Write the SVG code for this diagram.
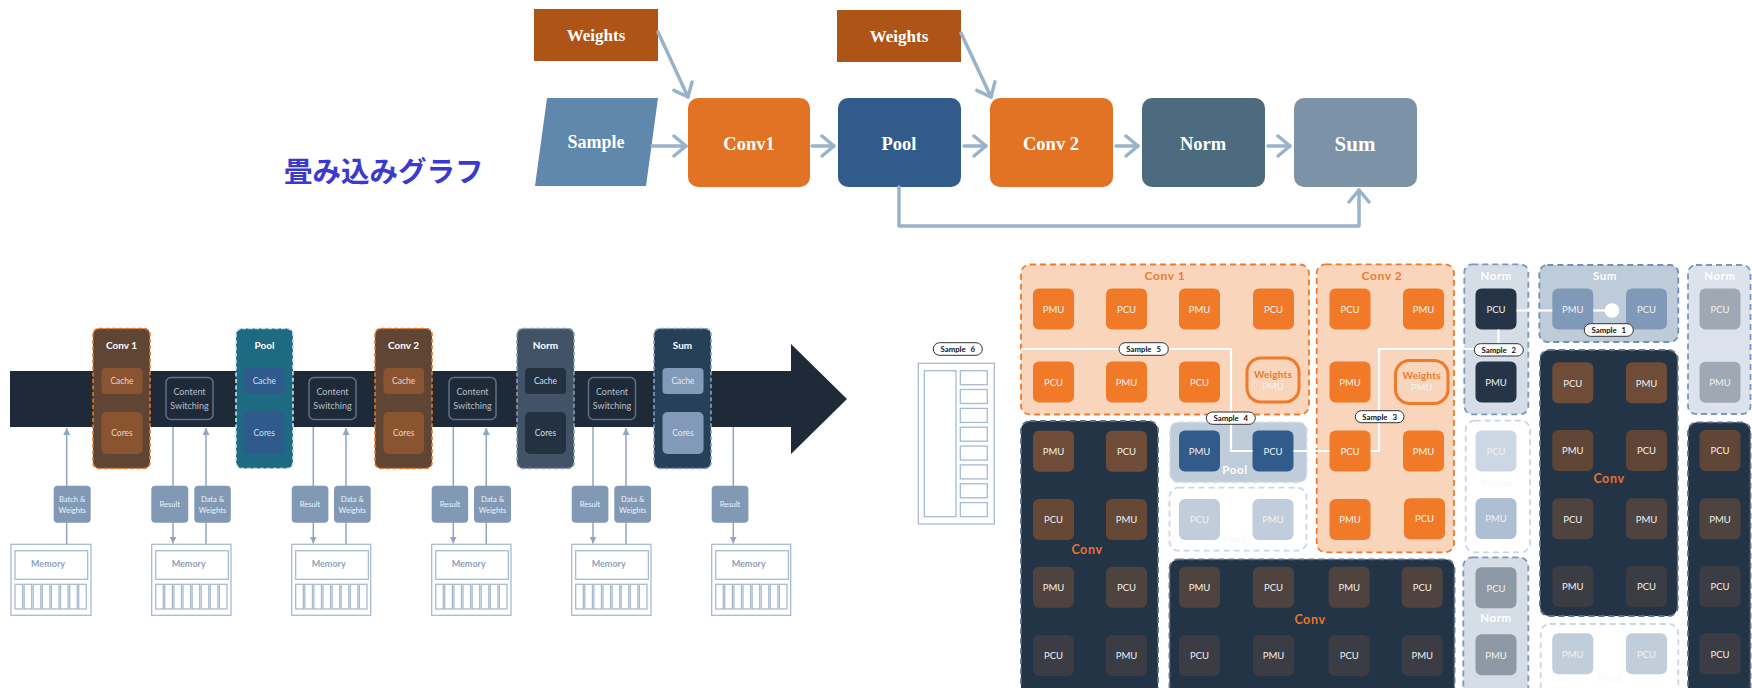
<svg xmlns="http://www.w3.org/2000/svg" width="1752" height="688" viewBox="0 0 1752 688">
<defs>
<style>
.tf{font-family:"Liberation Serif","Times New Roman",serif;font-weight:bold;fill:#fff;text-anchor:middle}
.ta{fill:none;stroke:#98B3CC;stroke-width:3.5;stroke-linecap:round;stroke-linejoin:round}
.lf{font-family:Lato,"Open Sans",sans-serif;text-anchor:middle;dominant-baseline:central}
.mod{stroke-width:1.6;stroke-dasharray:4 2.5}
.cs{fill:#1E2A38;stroke:#5F7186;stroke-width:1.5}
.cst{font-size:9px;fill:#B4BFCB}
.lb{fill:#8299B6}
.lbt{font-size:7.6px;fill:#EEF2F6}
.cl{fill:none;stroke:#8FA6C2;stroke-width:1.5}
.mem{fill:#fff;stroke:#A7BAD1;stroke-width:1.3}
.memt{font-size:9px;fill:#8EA3BE;font-weight:bold}
.reg{stroke-width:1.8;stroke-dasharray:6 4}
.or{fill:#F8D5BB;stroke:#EE7A2C}
.dk{fill:#243447;stroke:#5E718A}
.lt{fill:#D5DDE7;stroke:#7D98B8}
.gh{fill:#fff;stroke:#CCD6E1}
.t{rx:6px}
.tt{font-family:Lato,"Open Sans",sans-serif;font-size:9.5px;fill:#F2F2F2;text-anchor:middle;dominant-baseline:central}
.rt{font-family:Lato,"Open Sans",sans-serif;font-weight:bold;text-anchor:middle;dominant-baseline:central;letter-spacing:0.6px}
.gl{fill:#F8FAFC}
.sl{fill:none;stroke:#fff;stroke-width:2.2}
.pill{fill:#fff;stroke:#333;stroke-width:1}
.pt{font-family:Lato,"Open Sans",sans-serif;font-weight:bold;font-size:7.8px;fill:#111;text-anchor:middle;dominant-baseline:central;word-spacing:3px}
</style>
<marker id="chev" viewBox="0 0 16 24" refX="14" refY="12" markerWidth="16" markerHeight="24" markerUnits="userSpaceOnUse" orient="auto">
<path d="M2,2 L14,12 L2,22" fill="none" stroke="#98B3CC" stroke-width="3.5" stroke-linecap="round" stroke-linejoin="round"/>
</marker>
<marker id="tri" viewBox="0 0 10 10" refX="10" refY="5" markerWidth="7" markerHeight="7" markerUnits="userSpaceOnUse" orient="auto">
<path d="M0,0 L10,5 L0,10 Z" fill="#8FA6C2"/>
</marker>
</defs>
<rect width="1752" height="688" fill="#fff"/>

<!-- ===== Top flowchart ===== -->
<text x="284" y="182" font-family="'Noto Sans CJK JP',sans-serif" font-weight="bold" font-size="28.5" fill="#3A3AD0">畳み込みグラフ</text>

<g id="flow-weights1"><rect x="534" y="9" width="124" height="52" fill="#AE5417"/><text class="tf" x="596" y="41" font-size="17">Weights</text></g>
<g id="flow-weights2"><rect x="837" y="10" width="124" height="52" fill="#AE5417"/><text class="tf" x="899" y="42" font-size="17">Weights</text></g>
<g id="flow-sample"><polygon points="547,98 658,98 646,186 535,186" fill="#6088AD"/><text class="tf" x="596" y="148" font-size="18">Sample</text></g>
<g id="flow-conv1"><rect x="688" y="98" width="122" height="89" rx="10" fill="#E37324"/><text class="tf" x="749" y="150" font-size="18.5">Conv1</text></g>
<g id="flow-pool"><rect x="838" y="98" width="123" height="89" rx="10" fill="#315B8B"/><text class="tf" x="899" y="150" font-size="18.5">Pool</text></g>
<g id="flow-conv2"><rect x="990" y="98" width="123" height="89" rx="10" fill="#E37324"/><text class="tf" x="1051" y="150" font-size="18.5">Conv 2</text></g>
<g id="flow-norm"><rect x="1142" y="98" width="123" height="89" rx="10" fill="#4C6B7E"/><text class="tf" x="1203" y="150" font-size="18.5">Norm</text></g>
<g id="flow-sum"><rect x="1294" y="98" width="123" height="89" rx="10" fill="#7C92A7"/><text class="tf" x="1355" y="151" font-size="21">Sum</text></g>

<g id="flow-connectors">
<path class="ta" d="M652,146 L686,146" marker-end="url(#chev)"/>
<path class="ta" d="M812,146 L834,146" marker-end="url(#chev)"/>
<path class="ta" d="M964,146 L986,146" marker-end="url(#chev)"/>
<path class="ta" d="M1116,146 L1138,146" marker-end="url(#chev)"/>
<path class="ta" d="M1268,146 L1290,146" marker-end="url(#chev)"/>
<path class="ta" d="M658,32 L688,97" marker-end="url(#chev)"/>
<path class="ta" d="M961,33 L991,97" marker-end="url(#chev)"/>
<path class="ta" d="M899,187 L899,226 L1359,226 L1359,190" marker-end="url(#chev)"/>
</g>

<!-- ===== Left pipeline ===== -->
<g id="band"><path d="M10,371 L791,371 L791,344 L847,399 L791,454 L791,427 L10,427 Z" fill="#1E2A38"/></g>

<g id="mod-conv1">
<rect class="mod" x="93" y="328.5" width="57" height="140" rx="6" fill="#604535" stroke="#E8751F"/>
<text class="lf" x="121.5" y="344.5" font-size="10" font-weight="bold" fill="#fff">Conv 1</text>
<rect x="101.5" y="368" width="41" height="26" rx="4" fill="#8A5430"/><text class="lf" x="122" y="381" font-size="8.5" fill="#E6D5C8">Cache</text>
<rect x="101.5" y="412" width="41" height="42" rx="5" fill="#8A5430"/><text class="lf" x="122" y="433" font-size="8.5" fill="#E6D5C8">Cores</text>
</g>
<g id="mod-pool">
<rect class="mod" x="236" y="328.5" width="57" height="140" rx="6" fill="#1F6A83" stroke="#D5DEE6"/>
<text class="lf" x="264.5" y="344.5" font-size="10" font-weight="bold" fill="#fff">Pool</text>
<rect x="244" y="368" width="40.5" height="26" rx="4" fill="#2E5A8C"/><text class="lf" x="264.3" y="381" font-size="8.5" fill="#D4DEEA">Cache</text>
<rect x="244" y="412" width="40.5" height="42" rx="5" fill="#2E5A8C"/><text class="lf" x="264.3" y="433" font-size="8.5" fill="#D4DEEA">Cores</text>
</g>
<g id="mod-conv2">
<rect class="mod" x="375" y="328.5" width="57" height="140" rx="6" fill="#604535" stroke="#E8751F"/>
<text class="lf" x="403.5" y="344.5" font-size="10" font-weight="bold" fill="#fff">Conv 2</text>
<rect x="383.5" y="368" width="40.5" height="26" rx="4" fill="#8A5430"/><text class="lf" x="403.7" y="381" font-size="8.5" fill="#E6D5C8">Cache</text>
<rect x="383.5" y="412" width="40.5" height="42" rx="5" fill="#8A5430"/><text class="lf" x="403.7" y="433" font-size="8.5" fill="#E6D5C8">Cores</text>
</g>
<g id="mod-norm">
<rect class="mod" x="517" y="328.5" width="57" height="140" rx="6" fill="#435367" stroke="#8A9CB2"/>
<text class="lf" x="545.5" y="344.5" font-size="10" font-weight="bold" fill="#fff">Norm</text>
<rect x="525" y="368" width="41" height="26" rx="4" fill="#243140"/><text class="lf" x="545.5" y="381" font-size="8.5" fill="#D5DCE4">Cache</text>
<rect x="525" y="412" width="41" height="42" rx="5" fill="#243140"/><text class="lf" x="545.5" y="433" font-size="8.5" fill="#D5DCE4">Cores</text>
</g>
<g id="mod-sum">
<rect class="mod" x="654" y="328.5" width="57" height="140" rx="6" fill="#274059" stroke="#8AA0BA"/>
<text class="lf" x="682.5" y="344.5" font-size="10" font-weight="bold" fill="#fff">Sum</text>
<rect x="662.5" y="368" width="41" height="26" rx="4" fill="#8299B7"/><text class="lf" x="683" y="381" font-size="8.5" fill="#E4EAF1">Cache</text>
<rect x="662.5" y="412" width="41" height="42" rx="5" fill="#8299B7"/><text class="lf" x="683" y="433" font-size="8.5" fill="#E4EAF1">Cores</text>
</g>

<g id="cs1"><rect class="cs" x="166" y="377.5" width="47" height="42" rx="5"/><text class="lf cst" x="189.5" y="391.5">Content</text><text class="lf cst" x="189.5" y="405">Switching</text></g>
<g id="cs2"><rect class="cs" x="309" y="377.5" width="47" height="42" rx="5"/><text class="lf cst" x="332.5" y="391.5">Content</text><text class="lf cst" x="332.5" y="405">Switching</text></g>
<g id="cs3"><rect class="cs" x="449" y="377.5" width="47" height="42" rx="5"/><text class="lf cst" x="472.5" y="391.5">Content</text><text class="lf cst" x="472.5" y="405">Switching</text></g>
<g id="cs4"><rect class="cs" x="588.5" y="377.5" width="47" height="42" rx="5"/><text class="lf cst" x="612" y="391.5">Content</text><text class="lf cst" x="612" y="405">Switching</text></g>

<g id="left-connectors">
<path class="cl" d="M66.7,544 L66.7,428" marker-end="url(#tri)"/>
<path class="cl" d="M173,427 L173,543.5" marker-end="url(#tri)"/>
<path class="cl" d="M206,544 L206,428" marker-end="url(#tri)"/>
<path class="cl" d="M313.3,427 L313.3,543.5" marker-end="url(#tri)"/>
<path class="cl" d="M346,544 L346,428" marker-end="url(#tri)"/>
<path class="cl" d="M453.3,427 L453.3,543.5" marker-end="url(#tri)"/>
<path class="cl" d="M486.3,544 L486.3,428" marker-end="url(#tri)"/>
<path class="cl" d="M593,427 L593,543.5" marker-end="url(#tri)"/>
<path class="cl" d="M626,544 L626,428" marker-end="url(#tri)"/>
<path class="cl" d="M733.3,427 L733.3,543.5" marker-end="url(#tri)"/>
</g>

<g id="lbl-bw"><rect class="lb" x="53.7" y="485.7" width="37" height="37" rx="4"/><text class="lf lbt" x="72.2" y="499">Batch &amp;</text><text class="lf lbt" x="72.2" y="509.5">Weights</text></g>
<g id="lbl-r1"><rect class="lb" x="151.3" y="485.7" width="37" height="37" rx="4"/><text class="lf lbt" x="169.8" y="504">Result</text></g>
<g id="lbl-dw1"><rect class="lb" x="194.3" y="485.7" width="36.5" height="37" rx="4"/><text class="lf lbt" x="212.5" y="499">Data &amp;</text><text class="lf lbt" x="212.5" y="509.5">Weights</text></g>
<g id="lbl-r2"><rect class="lb" x="291.7" y="485.7" width="36.7" height="37" rx="4"/><text class="lf lbt" x="310" y="504">Result</text></g>
<g id="lbl-dw2"><rect class="lb" x="334" y="485.7" width="36.7" height="37" rx="4"/><text class="lf lbt" x="352.3" y="499">Data &amp;</text><text class="lf lbt" x="352.3" y="509.5">Weights</text></g>
<g id="lbl-r3"><rect class="lb" x="431.7" y="485.7" width="36.5" height="37" rx="4"/><text class="lf lbt" x="450" y="504">Result</text></g>
<g id="lbl-dw3"><rect class="lb" x="474" y="485.7" width="37" height="37" rx="4"/><text class="lf lbt" x="492.5" y="499">Data &amp;</text><text class="lf lbt" x="492.5" y="509.5">Weights</text></g>
<g id="lbl-r4"><rect class="lb" x="571.7" y="485.7" width="36.7" height="37" rx="4"/><text class="lf lbt" x="590" y="504">Result</text></g>
<g id="lbl-dw4"><rect class="lb" x="614.3" y="485.7" width="36.7" height="37" rx="4"/><text class="lf lbt" x="632.7" y="499">Data &amp;</text><text class="lf lbt" x="632.7" y="509.5">Weights</text></g>
<g id="lbl-r5"><rect class="lb" x="711.7" y="485.7" width="36.7" height="37" rx="4"/><text class="lf lbt" x="730" y="504">Result</text></g>

<g id="memories">
<g id="mem1" transform="translate(11,544.3)">
<rect class="mem" width="80" height="71"/><rect class="mem" x="4" y="6.4" width="72.7" height="28.6"/><text class="lf memt" x="37" y="19.5">Memory</text>
<g class="mem"><rect x="4" y="40" width="7.6" height="24.7"/><rect x="13.1" y="40" width="7.6" height="24.7"/><rect x="22.2" y="40" width="7.6" height="24.7"/><rect x="31.3" y="40" width="7.6" height="24.7"/><rect x="40.4" y="40" width="7.6" height="24.7"/><rect x="49.5" y="40" width="7.6" height="24.7"/><rect x="58.6" y="40" width="7.6" height="24.7"/><rect x="67.7" y="40" width="7.6" height="24.7"/></g>
</g>
<g id="mem2" transform="translate(151.7,544.3)">
<rect class="mem" width="79.3" height="71"/><rect class="mem" x="4" y="6.4" width="72.7" height="28.6"/><text class="lf memt" x="37" y="19.5">Memory</text>
<g class="mem"><rect x="4" y="40" width="7.6" height="24.7"/><rect x="13.1" y="40" width="7.6" height="24.7"/><rect x="22.2" y="40" width="7.6" height="24.7"/><rect x="31.3" y="40" width="7.6" height="24.7"/><rect x="40.4" y="40" width="7.6" height="24.7"/><rect x="49.5" y="40" width="7.6" height="24.7"/><rect x="58.6" y="40" width="7.6" height="24.7"/><rect x="67.7" y="40" width="7.6" height="24.7"/></g>
</g>
<g id="mem3" transform="translate(291.7,544.3)">
<rect class="mem" width="79" height="71"/><rect class="mem" x="4" y="6.4" width="72.7" height="28.6"/><text class="lf memt" x="37" y="19.5">Memory</text>
<g class="mem"><rect x="4" y="40" width="7.6" height="24.7"/><rect x="13.1" y="40" width="7.6" height="24.7"/><rect x="22.2" y="40" width="7.6" height="24.7"/><rect x="31.3" y="40" width="7.6" height="24.7"/><rect x="40.4" y="40" width="7.6" height="24.7"/><rect x="49.5" y="40" width="7.6" height="24.7"/><rect x="58.6" y="40" width="7.6" height="24.7"/><rect x="67.7" y="40" width="7.6" height="24.7"/></g>
</g>
<g id="mem4" transform="translate(431.7,544.3)">
<rect class="mem" width="79.3" height="71"/><rect class="mem" x="4" y="6.4" width="72.7" height="28.6"/><text class="lf memt" x="37" y="19.5">Memory</text>
<g class="mem"><rect x="4" y="40" width="7.6" height="24.7"/><rect x="13.1" y="40" width="7.6" height="24.7"/><rect x="22.2" y="40" width="7.6" height="24.7"/><rect x="31.3" y="40" width="7.6" height="24.7"/><rect x="40.4" y="40" width="7.6" height="24.7"/><rect x="49.5" y="40" width="7.6" height="24.7"/><rect x="58.6" y="40" width="7.6" height="24.7"/><rect x="67.7" y="40" width="7.6" height="24.7"/></g>
</g>
<g id="mem5" transform="translate(571.7,544.3)">
<rect class="mem" width="79.3" height="71"/><rect class="mem" x="4" y="6.4" width="72.7" height="28.6"/><text class="lf memt" x="37" y="19.5">Memory</text>
<g class="mem"><rect x="4" y="40" width="7.6" height="24.7"/><rect x="13.1" y="40" width="7.6" height="24.7"/><rect x="22.2" y="40" width="7.6" height="24.7"/><rect x="31.3" y="40" width="7.6" height="24.7"/><rect x="40.4" y="40" width="7.6" height="24.7"/><rect x="49.5" y="40" width="7.6" height="24.7"/><rect x="58.6" y="40" width="7.6" height="24.7"/><rect x="67.7" y="40" width="7.6" height="24.7"/></g>
</g>
<g id="mem6" transform="translate(711.7,544.3)">
<rect class="mem" width="79" height="71"/><rect class="mem" x="4" y="6.4" width="72.7" height="28.6"/><text class="lf memt" x="37" y="19.5">Memory</text>
<g class="mem"><rect x="4" y="40" width="7.6" height="24.7"/><rect x="13.1" y="40" width="7.6" height="24.7"/><rect x="22.2" y="40" width="7.6" height="24.7"/><rect x="31.3" y="40" width="7.6" height="24.7"/><rect x="40.4" y="40" width="7.6" height="24.7"/><rect x="49.5" y="40" width="7.6" height="24.7"/><rect x="58.6" y="40" width="7.6" height="24.7"/><rect x="67.7" y="40" width="7.6" height="24.7"/></g>
</g>
</g>

<!-- ===== Right floorplan ===== -->
<g id="sample6-mem">
<rect class="mem" x="918.3" y="363.3" width="76" height="160.7"/>
<rect class="mem" x="924.3" y="370.7" width="31.7" height="146"/>
<g class="mem"><rect x="960.3" y="370.7" width="27" height="14"/><rect x="960.3" y="389.5" width="27" height="14"/><rect x="960.3" y="408.4" width="27" height="14"/><rect x="960.3" y="427.2" width="27" height="14"/><rect x="960.3" y="446.1" width="27" height="14"/><rect x="960.3" y="464.9" width="27" height="14"/><rect x="960.3" y="483.8" width="27" height="14"/><rect x="960.3" y="502.6" width="27" height="14"/></g>
</g>

<g id="r-conv1">
<rect class="reg or" x="1021" y="264.5" width="288" height="150" rx="9"/>
<text class="rt" x="1165" y="275" font-size="12" fill="#EE7A2C">Conv 1</text>
<g fill="#F07A27">
<rect class="t" x="1033" y="288.5" width="41" height="41"/><rect class="t" x="1106" y="288.5" width="41" height="41"/><rect class="t" x="1179" y="288.5" width="41" height="41"/><rect class="t" x="1253" y="288.5" width="41" height="41"/>
<rect class="t" x="1033" y="361.5" width="41" height="41"/><rect class="t" x="1106" y="361.5" width="41" height="41"/><rect class="t" x="1179" y="361.5" width="41" height="41"/>
</g>
<text class="tt" x="1053.5" y="309">PMU</text><text class="tt" x="1126.5" y="309">PCU</text><text class="tt" x="1199.5" y="309">PMU</text><text class="tt" x="1273.5" y="309">PCU</text>
<text class="tt" x="1053.5" y="382">PCU</text><text class="tt" x="1126.5" y="382">PMU</text><text class="tt" x="1199.5" y="382">PCU</text>
<rect x="1247" y="358" width="52" height="44" rx="14" fill="none" stroke="#EE7A2C" stroke-width="3"/>
<text class="rt" x="1273" y="374" font-size="10" fill="#EE7A2C" style="letter-spacing:0.2px">Weights</text>
<text class="tt" x="1273" y="386" fill="#F6A16A" font-size="9">PMU</text>
</g>

<g id="r-conv-left">
<rect class="reg dk" x="1021" y="421" width="137" height="280" rx="9"/>
<rect class="t" x="1033" y="430.7" width="41" height="41" fill="#6E4C37"/><rect class="t" x="1106" y="430.7" width="41" height="41" fill="#6E4C37"/>
<rect class="t" x="1033" y="499" width="41" height="41" fill="#654835"/><rect class="t" x="1106" y="499" width="41" height="41" fill="#654835"/>
<rect class="t" x="1033" y="566.7" width="41" height="41" fill="#4E433E"/><rect class="t" x="1106" y="566.7" width="41" height="41" fill="#4E433E"/>
<rect class="t" x="1033" y="635" width="41" height="41" fill="#3B3C44"/><rect class="t" x="1106" y="635" width="41" height="41" fill="#3B3C44"/>
<text class="tt" x="1053.5" y="451">PMU</text><text class="tt" x="1126.5" y="451">PCU</text>
<text class="tt" x="1053.5" y="519.5">PCU</text><text class="tt" x="1126.5" y="519.5">PMU</text>
<text class="tt" x="1053.5" y="587">PMU</text><text class="tt" x="1126.5" y="587">PCU</text>
<text class="tt" x="1053.5" y="655.5">PCU</text><text class="tt" x="1126.5" y="655.5">PMU</text>
<text class="rt" x="1087" y="549.5" font-size="12.5" fill="#E8732A">Conv</text>
</g>

<g id="r-pool">
<rect class="reg" x="1170" y="422.3" width="136.7" height="60" rx="8" fill="#BFCCDA" stroke="#D3DCE6"/>
<rect class="t" x="1179" y="430.5" width="41" height="41" fill="#315B8B"/><rect class="t" x="1252.5" y="430.5" width="41" height="41" fill="#315B8B"/>
<text class="tt" x="1199.5" y="451">PMU</text><text class="tt" x="1273" y="451">PCU</text>
<text class="rt" x="1235" y="469.5" font-size="11.5" fill="#fff">Pool</text>
</g>

<g id="r-pool-ghost">
<rect class="reg gh" x="1169.5" y="487.7" width="137" height="63" rx="9"/>
<rect class="t" x="1179" y="499" width="41" height="41" fill="#C1CDDA"/><rect class="t" x="1252.5" y="499" width="41" height="41" fill="#C1CDDA"/>
<text class="tt" x="1199.5" y="519.5">PCU</text><text class="tt" x="1273" y="519.5">PMU</text>
<text class="rt gl" x="1235" y="538" font-size="11">Pool</text>
</g>

<g id="r-conv-bottom">
<rect class="reg dk" x="1169.5" y="559.3" width="285" height="140" rx="9"/>
<g fill="#4E433E"><rect class="t" x="1179" y="566.7" width="41" height="41"/><rect class="t" x="1253" y="566.7" width="41" height="41"/><rect class="t" x="1328.7" y="566.7" width="41" height="41"/><rect class="t" x="1401.7" y="566.7" width="41" height="41"/></g>
<g fill="#3B3C44"><rect class="t" x="1179" y="635" width="41" height="41"/><rect class="t" x="1253" y="635" width="41" height="41"/><rect class="t" x="1328.7" y="635" width="41" height="41"/><rect class="t" x="1401.7" y="635" width="41" height="41"/></g>
<text class="tt" x="1199.5" y="587">PMU</text><text class="tt" x="1273.5" y="587">PCU</text><text class="tt" x="1349.2" y="587">PMU</text><text class="tt" x="1422.2" y="587">PCU</text>
<text class="tt" x="1199.5" y="655.5">PCU</text><text class="tt" x="1273.5" y="655.5">PMU</text><text class="tt" x="1349.2" y="655.5">PCU</text><text class="tt" x="1422.2" y="655.5">PMU</text>
<text class="rt" x="1310" y="619" font-size="12.5" fill="#E8732A">Conv</text>
</g>

<g id="r-conv2">
<rect class="reg or" x="1316.7" y="264.3" width="137.3" height="288" rx="9"/>
<text class="rt" x="1382" y="275" font-size="12" fill="#EE7A2C">Conv 2</text>
<g fill="#F07A27">
<rect class="t" x="1329.5" y="288.5" width="41" height="41"/><rect class="t" x="1403" y="288.5" width="41" height="41"/>
<rect class="t" x="1329.5" y="361.5" width="41" height="41"/>
<rect class="t" x="1329.5" y="430.5" width="41" height="41"/><rect class="t" x="1403" y="430.5" width="41" height="41"/>
<rect class="t" x="1329.5" y="499" width="41" height="41"/><rect class="t" x="1404" y="498.3" width="41" height="41"/>
</g>
<text class="tt" x="1350" y="309">PCU</text><text class="tt" x="1423.5" y="309">PMU</text>
<text class="tt" x="1350" y="382">PMU</text>
<text class="tt" x="1350" y="451">PCU</text><text class="tt" x="1423.5" y="451">PMU</text>
<text class="tt" x="1350" y="519.5">PMU</text><text class="tt" x="1424.5" y="518.8">PCU</text>
<rect x="1395.5" y="360.5" width="52.5" height="43" rx="14" fill="none" stroke="#EE7A2C" stroke-width="3"/>
<text class="rt" x="1421.7" y="375" font-size="10" fill="#EE7A2C" style="letter-spacing:0.2px">Weights</text>
<text class="tt" x="1421.7" y="387" fill="#F6A16A" font-size="9">PMU</text>
</g>

<g id="r-norm-top">
<rect class="reg lt" x="1464.3" y="264.3" width="64" height="150" rx="8"/>
<text class="rt" x="1496.3" y="275" font-size="11.5" fill="#fff">Norm</text>
<rect class="t" x="1475.5" y="288.5" width="41" height="41" fill="#253447"/><rect class="t" x="1475.5" y="361.5" width="41" height="41" fill="#253447"/>
<text class="tt" x="1496" y="309">PCU</text><text class="tt" x="1496" y="382">PMU</text>
</g>

<g id="r-norm-ghost">
<rect class="reg gh" x="1465.7" y="420.7" width="64.3" height="131.6" rx="9"/>
<rect class="t" x="1475.5" y="430.5" width="41" height="41" fill="#CDD7E3"/><rect class="t" x="1475.5" y="498" width="41" height="41" fill="#AEBFD3"/>
<text class="tt" x="1496" y="451">PCU</text><text class="tt" x="1496" y="518.5">PMU</text>
<text class="rt gl" x="1497" y="482" font-size="11">Norm</text>
</g>

<g id="r-norm-bottom">
<rect class="reg lt" x="1463.3" y="557.3" width="65" height="140" rx="9"/>
<rect class="t" x="1475.5" y="567.3" width="41" height="41" fill="#8E99A6"/><rect class="t" x="1475.5" y="634.3" width="41" height="41" fill="#8E99A6"/>
<text class="tt" x="1496" y="588">PCU</text><text class="tt" x="1496" y="655">PMU</text>
<text class="rt" x="1496" y="617" font-size="11.5" fill="#fff">Norm</text>
</g>

<g id="r-sum">
<rect class="reg" x="1539.3" y="265" width="139" height="77" rx="8" fill="#BECCDA" stroke="#6D8FB8"/>
<text class="rt" x="1605" y="275" font-size="11.5" fill="#fff">Sum</text>
<rect class="t" x="1552.3" y="288.5" width="41" height="41" fill="#8099B8"/><rect class="t" x="1626" y="288.5" width="41" height="41" fill="#8099B8"/>
<text class="tt" x="1572.8" y="309">PMU</text><text class="tt" x="1646.5" y="309">PCU</text>
</g>

<g id="r-conv-right">
<rect class="reg dk" x="1540" y="350" width="137.7" height="266" rx="9"/>
<rect class="t" x="1552.3" y="362.3" width="41" height="41" fill="#6E4C37"/><rect class="t" x="1626" y="362.3" width="41" height="41" fill="#6E4C37"/>
<rect class="t" x="1552.3" y="430" width="41" height="41" fill="#5E4536"/><rect class="t" x="1626" y="430" width="41" height="41" fill="#5E4536"/>
<rect class="t" x="1552.3" y="498.3" width="41" height="41" fill="#4E433E"/><rect class="t" x="1626" y="498.3" width="41" height="41" fill="#4E433E"/>
<rect class="t" x="1552.3" y="566" width="41" height="41" fill="#3B3C44"/><rect class="t" x="1626" y="566" width="41" height="41" fill="#3B3C44"/>
<text class="tt" x="1572.8" y="383">PCU</text><text class="tt" x="1646.5" y="383">PMU</text>
<text class="tt" x="1572.8" y="450.5">PMU</text><text class="tt" x="1646.5" y="450.5">PCU</text>
<text class="tt" x="1572.8" y="519">PCU</text><text class="tt" x="1646.5" y="519">PMU</text>
<text class="tt" x="1572.8" y="586.5">PMU</text><text class="tt" x="1646.5" y="586.5">PCU</text>
<text class="rt" x="1609" y="478" font-size="12.5" fill="#E8732A">Conv</text>
</g>

<g id="r-sum-ghost">
<rect class="reg gh" x="1540.7" y="624" width="137.6" height="80" rx="9"/>
<rect class="t" x="1552.3" y="633.3" width="41" height="41" fill="#C1CDDA"/><rect class="t" x="1626" y="633.3" width="41" height="41" fill="#C1CDDA"/>
<text class="tt" x="1572.8" y="654">PMU</text><text class="tt" x="1646.5" y="654">PCU</text>
<text class="rt gl" x="1609" y="677" font-size="11">Pool</text>
</g>

<g id="r-norm-right">
<rect class="reg" x="1688" y="265" width="62.5" height="149" rx="8" fill="#DCE3EC" stroke="#7D98B8"/>
<text class="rt" x="1720" y="275" font-size="11.5" fill="#fff">Norm</text>
<rect class="t" x="1699.5" y="288.5" width="41" height="41" fill="#A0A9B3"/><rect class="t" x="1699.5" y="361.7" width="41" height="41" fill="#A0A9B3"/>
<text class="tt" x="1720" y="309">PCU</text><text class="tt" x="1720" y="382">PMU</text>
</g>

<g id="r-conv-far-right">
<rect class="reg dk" x="1688" y="422.3" width="62.5" height="280" rx="9"/>
<rect class="t" x="1699.5" y="430" width="41" height="41" fill="#5F4637"/>
<rect class="t" x="1699.5" y="498.3" width="41" height="41" fill="#4E433E"/>
<rect class="t" x="1699.5" y="566" width="41" height="41" fill="#3B3C44"/>
<rect class="t" x="1699.5" y="633.3" width="41" height="41" fill="#3B3C44"/>
<text class="tt" x="1720" y="450.5">PCU</text><text class="tt" x="1720" y="519">PMU</text><text class="tt" x="1720" y="586.5">PCU</text><text class="tt" x="1720" y="654">PCU</text>
</g>

<g id="sample-connectors">
<path class="sl" d="M1021,349 L1231,349 L1231,451 L1252.5,451"/>
<path class="sl" d="M1293.5,451 L1329.5,451"/>
<path class="sl" d="M1370.5,451 L1379,451 L1379,349 L1475,349"/>
<path class="sl" d="M1498.5,329.5 L1498.5,344"/>
<path class="sl" d="M1516.5,310.5 L1552.3,310.5"/>
<path class="sl" d="M1593.3,310.5 L1612,310.5"/>
<circle cx="1612" cy="310.5" r="7.3" fill="#fff"/>
</g>

<g id="sample-labels">
<g><rect class="pill" x="933.3" y="342.7" width="49" height="12.6" rx="6.3"/><text class="pt" x="957.8" y="349">Sample 6</text></g>
<g><rect class="pill" x="1119" y="342.7" width="49.3" height="12.6" rx="6.3"/><text class="pt" x="1143.6" y="349">Sample 5</text></g>
<g><rect class="pill" x="1206.3" y="412" width="49" height="12.3" rx="6.2"/><text class="pt" x="1230.8" y="418.2">Sample 4</text></g>
<g><rect class="pill" x="1355.3" y="410.7" width="48.7" height="12" rx="6"/><text class="pt" x="1379.6" y="416.7">Sample 3</text></g>
<g><rect class="pill" x="1474.3" y="343.7" width="49" height="12.3" rx="6.2"/><text class="pt" x="1498.8" y="349.9">Sample 2</text></g>
<g><rect class="pill" x="1584.3" y="323.7" width="49" height="12.6" rx="6.3"/><text class="pt" x="1608.8" y="330">Sample 1</text></g>
</g>
</svg>
